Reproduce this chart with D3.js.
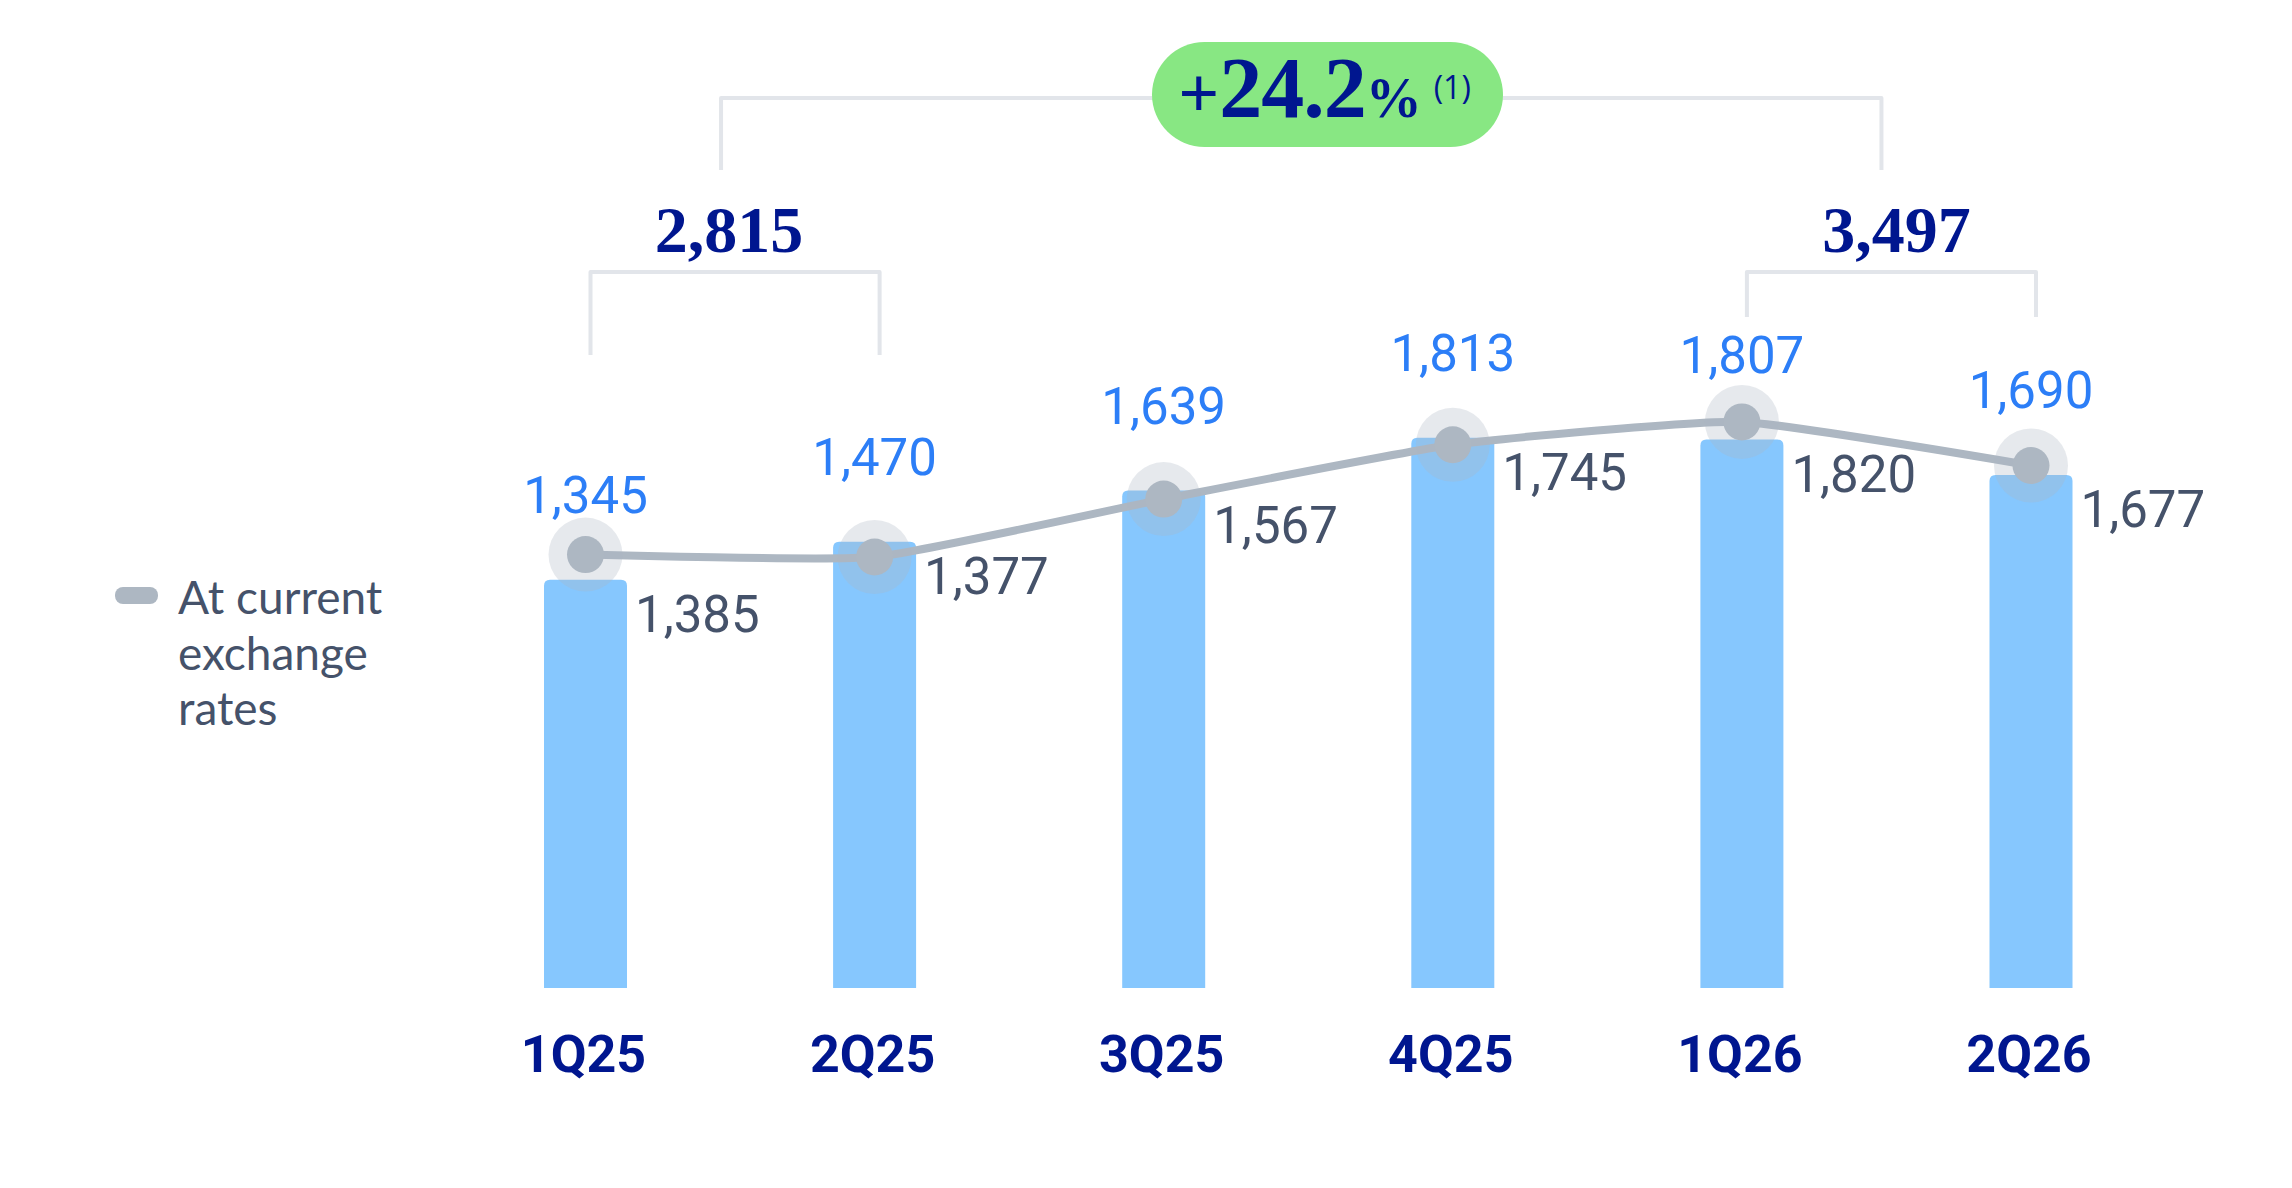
<!DOCTYPE html>
<html>
<head>
<meta charset="utf-8">
<script src="https://cdn.jsdelivr.net/npm/d3@7"></script>
<style>
	body { margin: 0; background: #ffffff; }
</style>
</head>
<body>
<div id="chart"></div>
<script>

let quarters = ['1Q25', '2Q25', '3Q25', '4Q25', '1Q26', '2Q26']

// bars: at constant exchange rates
let constantRates = [1345, 1470, 1639, 1813, 1807, 1690]

// line: at current exchange rates
let currentRates = [1385, 1377, 1567, 1745, 1820, 1677]

let legendLines = ['At current', 'exchange', 'rates']

let footnote = '(1)'

let width = 2292
let height = 1188

let navy = '#00168f'
let blue = '#2c7ef7'
let slate = '#45526a'
let grey = '#adb7c2'
let bracketColor = '#e2e5ea'

let barWidth = 83

let xScale = d3.scalePoint()
	.domain(quarters)
	.range([585.5, 2031])

let yBar = d3.scaleLinear()
	.domain([0, 2000])
	.range([988, 381])

// the line sits a little above the bars in the original
let yLine = d3.scaleLinear()
	.domain([0, 2000])
	.range([977, 367])

const svg = d3.select('#chart')
	.append('svg')
	.attr('width', width)
	.attr('height', height)

let barData = quarters.map((q, i) => ({'q': q, 'v': constantRates[i], 'c': currentRates[i]}))

function barPath(d){
	let x0 = xScale(d.q) - barWidth / 2
	let x1 = x0 + barWidth
	let top = yBar(d.v)
	let bottom = yBar(0)
	let r = 6
	return `M${x0},${bottom} V${top + r} Q${x0},${top} ${x0 + r},${top} H${x1 - r} Q${x1},${top} ${x1},${top + r} V${bottom} Z`
}

svg.selectAll('.bar')
	.data(barData)
	.enter()
	.append('path')
	.attr('class', 'bar')
	.attr('d', barPath)
	.attr('fill', '#86c7fe')

// line
let lineGenerator = d3.line()
	.curve(d3.curveCardinal.tension(0.55))
	.x(d => xScale(d.q))
	.y(d => yLine(d.c))

svg.append('path')
	.datum(barData)
	.attr('d', lineGenerator)
	.attr('fill', 'none')
	.attr('stroke', grey)
	.attr('stroke-width', 8)

svg.selectAll('.halo')
	.data(barData)
	.enter()
	.append('circle')
	.attr('class', 'halo')
	.attr('cx', d => xScale(d.q))
	.attr('cy', d => yLine(d.c))
	.attr('r', 37)
	.attr('fill', grey)
	.attr('fill-opacity', 0.3)

svg.selectAll('.dot')
	.data(barData)
	.enter()
	.append('circle')
	.attr('class', 'dot')
	.attr('cx', d => xScale(d.q))
	.attr('cy', d => yLine(d.c))
	.attr('r', 18.5)
	.attr('fill', grey)

let fmt = d3.format(',')

// bar labels
svg.selectAll('.barLabel')
	.data(barData)
	.enter()
	.append('text')
	.attr('class', 'barLabel')
	.attr('x', d => xScale(d.q))
	.attr('y', d => yBar(d.v) - 67)
	.attr('text-anchor', 'middle')
	.attr('font-family', 'Roboto')
	.attr('font-size', 51)
	.attr('fill', blue)
	.text(d => fmt(d.v))

// line labels
svg.selectAll('.lineLabel')
	.data(barData)
	.enter()
	.append('text')
	.attr('class', 'lineLabel')
	.attr('x', d => xScale(d.q) + barWidth / 2 + 8)
	.attr('y', d => yBar(d.v) + 52)
	.attr('font-family', 'Roboto')
	.attr('font-size', 51)
	.attr('fill', slate)
	.text(d => fmt(d.c))

// quarter labels
svg.selectAll('.qLabel')
	.data(quarters)
	.enter()
	.append('text')
	.attr('class', 'qLabel')
	.attr('x', d => xScale(d) - 2)
	.attr('y', 1072)
	.attr('text-anchor', 'middle')
	.attr('font-family', 'Roboto')
	.attr('font-weight', 700)
	.attr('font-size', 52)
	.attr('fill', navy)
	.text(d => d)

// half-year brackets
let halves = [
	{'from': quarters[0], 'to': quarters[1], 'total': constantRates[0] + constantRates[1], 'drop': 83, 'shift': -6},
	{'from': quarters[4], 'to': quarters[5], 'total': constantRates[4] + constantRates[5], 'drop': 45, 'shift': 5},
]

let bracketTop = 272

halves.forEach(function(h){
	let x1 = xScale(h.from) + 5
	let x2 = xScale(h.to) + 5
	h.mid = (x1 + x2) / 2

	svg.append('path')
		.attr('d', `M${x1},${bracketTop + h.drop} V${bracketTop} H${x2} V${bracketTop + h.drop}`)
		.attr('fill', 'none')
		.attr('stroke', bracketColor)
		.attr('stroke-width', 4)
		.attr('stroke-linejoin', 'round')

	svg.append('text')
		.attr('x', h.mid + h.shift)
		.attr('y', 252)
		.attr('text-anchor', 'middle')
		.attr('font-family', 'Liberation Serif')
		.attr('font-weight', 700)
		.attr('font-size', 66)
		.attr('fill', navy)
		.text(fmt(h.total))
})

// growth bracket
let topY = 98
let gx1 = halves[0].mid - 14
let gx2 = halves[1].mid - 10

svg.append('path')
	.attr('d', `M${gx1},170 V${topY} H${gx2} V170`)
	.attr('fill', 'none')
	.attr('stroke', bracketColor)
	.attr('stroke-width', 4)
	.attr('stroke-linejoin', 'round')

let pillW = 351
let pillH = 105
let pillCx = 1327.5

svg.append('rect')
	.attr('x', pillCx - pillW / 2)
	.attr('y', 42)
	.attr('width', pillW)
	.attr('height', pillH)
	.attr('rx', pillH / 2)
	.attr('fill', '#88e783')

let growth = halves[1].total / halves[0].total - 1

let growthText = svg.append('text')
	.attr('x', pillCx - 3)
	.attr('y', 117)
	.attr('text-anchor', 'middle')
	.attr('fill', navy)

growthText.append('tspan')
	.attr('font-family', 'Liberation Serif')
	.attr('font-weight', 700)
	.attr('font-size', 72)
	.text('+')

growthText.append('tspan')
	.attr('font-family', 'Liberation Serif')
	.attr('font-weight', 700)
	.attr('font-size', 86)
	.attr('letter-spacing', -1)
	.text(d3.format('.1f')(growth * 100))

growthText.append('tspan')
	.attr('font-family', 'Liberation Serif')
	.attr('font-weight', 700)
	.attr('font-size', 56)
	.text('%')

growthText.append('tspan')
	.attr('font-family', 'Open Sans')
	.attr('font-size', 32)
	.attr('dx', 12)
	.attr('dy', -18)
	.text(footnote)

// legend
svg.append('rect')
	.attr('x', 115)
	.attr('y', 587)
	.attr('width', 43)
	.attr('height', 17)
	.attr('rx', 8)
	.attr('fill', grey)

svg.selectAll('.legendText')
	.data(legendLines)
	.enter()
	.append('text')
	.attr('class', 'legendText')
	.attr('x', 178)
	.attr('y', (d, i) => 614 + i * 55.5)
	.attr('font-family', 'Lato')
	.attr('font-size', 46)
	.attr('fill', slate)
	.text(d => d)

</script>
</body>
</html>
